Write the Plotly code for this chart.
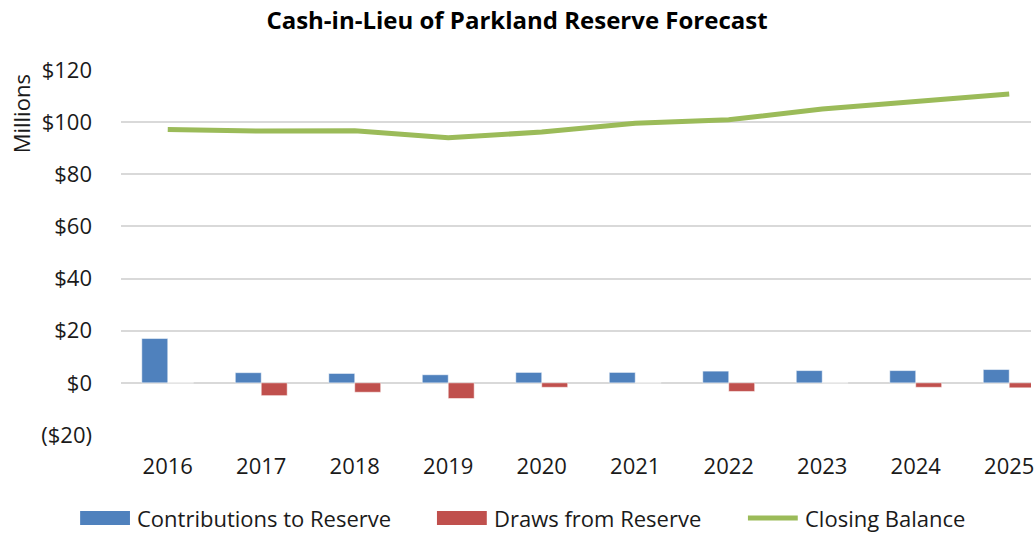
import plotly.graph_objects as go

# Forecast values, $ millions
years = ["2016", "2017", "2018", "2019", "2020", "2021", "2022", "2023", "2024", "2025"]
contributions = [17.0, 3.9, 3.6, 3.1, 4.0, 4.0, 4.5, 4.7, 4.7, 5.1]
draws = [0.0, -4.9, -3.6, -6.0, -1.7, 0.0, -3.3, 0.0, -1.7, -1.9]
closing_balance = [97.2, 96.6, 96.7, 94.0, 96.2, 99.6, 100.9, 105.0, 107.9, 110.8]

y_tick_vals = [-20, 0, 20, 40, 60, 80, 100, 120]
y_tick_text = ["($20)", "$0", "$20", "$40", "$60", "$80", "$100", "$120"]

series_names = ["Contributions to Reserve", "Draws from Reserve", "Closing Balance"]

BLUE = "#4F81BD"
RED = "#C0504D"
GREEN = "#9BBB59"
FONT = "Open Sans"
TEXT = "#1a1a1a"
SIZE = 22

fig = go.Figure()
fig.add_trace(go.Bar(x=years, y=contributions, name=series_names[0],
                     marker=dict(color=BLUE, line=dict(color="rgba(255,255,255,0.5)", width=1))))
fig.add_trace(go.Bar(x=years, y=draws, name=series_names[1],
                     marker=dict(color=RED, line=dict(color="rgba(255,255,255,0.5)", width=1))))
fig.add_trace(go.Scatter(x=years, y=closing_balance, name=series_names[2], mode="lines",
                         line=dict(color=GREEN, width=5)))

fig.update_layout(
    width=1034, height=534,
    margin=dict(l=121, r=0, t=70, b=99),
    paper_bgcolor="white", plot_bgcolor="white",
    showlegend=False,
    barmode="group", bargap=0.445, bargroupgap=0,
    font=dict(family=FONT, size=SIZE, color=TEXT),
    title=dict(text="<b>Cash-in-Lieu of Parkland Reserve Forecast</b>",
               x=0.5, xanchor="center", y=0.962, yanchor="middle",
               font=dict(family=FONT, size=24, color="#000")),
)

fig.update_xaxes(type="category", range=[-0.5, 9.233],
                 showgrid=False, showline=False, zeroline=False,
                 ticks="", ticklabelstandoff=16,
                 tickfont=dict(family=FONT, size=SIZE, color=TEXT))
fig.update_yaxes(range=[-20, 120], tickvals=y_tick_vals, ticktext=y_tick_text,
                 showgrid=True, gridcolor="#D9D9D9", gridwidth=1.5,
                 zeroline=True, zerolinecolor="#D9D9D9", zerolinewidth=1.5,
                 showline=False, ticks="", ticklabelstandoff=28,
                 tickfont=dict(family=FONT, size=SIZE, color=TEXT))


def px_x(p):
    # horizontal pixel -> paper fraction
    return (p - 121) / 913


def px_y(p):
    # vertical pixel -> paper fraction
    return (435 - p) / 365


# Axis title placed near the top of the value axis
fig.add_annotation(text="Millions", xref="paper", yref="paper",
                   x=px_x(21), y=px_y(114), xanchor="center", yanchor="middle",
                   textangle=-90, showarrow=False,
                   font=dict(family=FONT, size=SIZE, color=TEXT))

# Legend row drawn beneath the chart with wide swatches
legend_y = 518
swatches = [(80, 130, BLUE, "bar"), (438, 488, RED, "bar"), (750, 800, GREEN, "line")]
for (x0, x1, color, kind), label in zip(swatches, series_names):
    if kind == "bar":
        fig.add_shape(type="rect", xref="paper", yref="paper",
                      x0=px_x(x0), x1=px_x(x1), y0=px_y(legend_y + 7), y1=px_y(legend_y - 7),
                      fillcolor=color, line=dict(width=0))
    else:
        fig.add_shape(type="line", xref="paper", yref="paper",
                      x0=px_x(x0), x1=px_x(x1), y0=px_y(legend_y), y1=px_y(legend_y),
                      line=dict(color=color, width=5))
    fig.add_annotation(text=label, xref="paper", yref="paper",
                       x=px_x(x1 + 5), y=px_y(legend_y), xanchor="left", yanchor="middle",
                       showarrow=False, font=dict(family=FONT, size=SIZE, color=TEXT))

fig.write_html("out.html")
